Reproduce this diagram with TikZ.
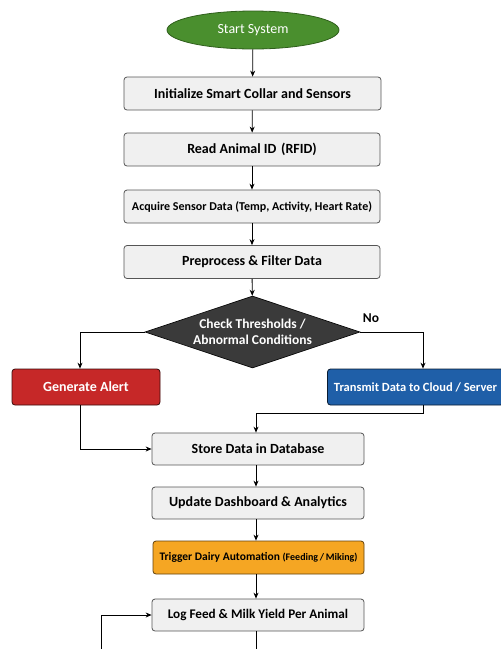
\documentclass[tikz,border=0pt]{standalone}
\usepackage{fontspec}
\setmainfont{Carlito}
\usetikzlibrary{shapes.geometric,arrows.meta}
\definecolor{boxfill}{HTML}{F0F0F0}
\definecolor{boxline}{HTML}{555555}
\definecolor{startgreen}{HTML}{4A8F2E}
\definecolor{startline}{HTML}{2F5E1C}
\definecolor{decfill}{HTML}{3A3A3A}
\definecolor{alertred}{HTML}{C62828}
\definecolor{cloudblue}{HTML}{1F5FA8}
\definecolor{autoorange}{HTML}{F5A623}
\tikzset{
  procbox/.style={draw=boxline, fill=boxfill, line width=0.8pt, rounded corners=3pt,
    minimum height=33pt, inner sep=2pt, font=\bfseries\fontsize{14}{16}\selectfont, text=black},
  arr/.style={-{Stealth[length=6pt,width=5pt]}, line width=0.8pt, black},
  lin/.style={line width=0.8pt, black},
}
\begin{document}
\begin{tikzpicture}[x=1pt,y=-1pt]
\useasboundingbox (0,0) rectangle (501,649);
\node[ellipse, draw=startline, fill=startgreen, line width=0.8pt, minimum width=172pt, minimum height=38pt,
  text=white, font=\fontsize{14}{16}\selectfont] (start) at (253,30) {Start System};
\node[procbox, minimum width=257pt] (init) at (252.5,93.5) {Initialize Smart Collar and Sensors};
\node[procbox, minimum width=256pt] (read) at (252,149.5) {Read Animal ID\,\,(RFID)};
\node[procbox, minimum width=256pt, font=\bfseries\fontsize{12}{14}\selectfont] (acq) at (252,206.5) {Acquire Sensor Data (Temp, Activity, Heart Rate)};
\node[procbox, minimum width=256pt] (pre) at (252,262) {Preprocess \& Filter Data};
\node[diamond, draw=black, fill=decfill, line width=0.6pt, minimum width=215pt, minimum height=72pt, aspect=3,
  inner sep=0pt, text=white, align=center, font=\bfseries\fontsize{13.5}{16}\selectfont] (chk) at (252.5,332)
  {Check Thresholds /\\Abnormal Conditions};
\node[procbox, fill=alertred, draw=black!70!alertred, minimum width=148pt, minimum height=36pt, text=white] (alert) at (86,387) {Generate Alert};
\node[procbox, fill=cloudblue, draw=black!70!cloudblue, minimum width=176pt, minimum height=36pt, text=white,
  font=\bfseries\fontsize{12.5}{14}\selectfont] (cloud) at (415.5,387) {Transmit Data to Cloud / Server};
\node[procbox, minimum width=212pt, minimum height=32pt] (store) at (258,449) {Store Data in Database};
\node[procbox, minimum width=212pt, minimum height=32pt] (dash) at (258,503) {Update Dashboard \& Analytics};
\node[procbox, fill=autoorange, draw=black!60!autoorange, minimum width=211pt, minimum height=33pt] (auto) at (258.5,557.5)
  {\fontsize{11.5}{13}\selectfont Trigger Dairy Automation {\fontsize{10}{12}\selectfont(Feeding\,/\,Miking)}};
\node[procbox, minimum width=212pt, minimum height=32pt, font=\bfseries\fontsize{13.2}{15}\selectfont] (log) at (258,615) {Log Feed \& Milk Yield Per Animal};
\node[font=\bfseries\fontsize{13.5}{15}\selectfont] (no) at (371,318) {No};
\coordinate (loopb) at (101,649);
\coordinate (logb) at (256,649);

\draw[arr] (start) -- (init);
\draw[arr] (init) -- (read);
\draw[arr] (read) -- (acq);
\draw[arr] (acq) -- (pre);
\draw[arr] (pre) -- (chk);
\draw[arr] (chk.west) -| (alert.north -| 80,0);
\draw[arr] (chk.east) -| (cloud.north -| 423,0);
\draw[arr] (alert.south -| 80,0) |- (store.west);
\draw[arr] (cloud.south -| 423,0) -- (423,413) -| (store.north -| 256,0);
\draw[arr] (store.south -| 256,0) -- (dash.north -| 256,0);
\draw[arr] (dash.south -| 256,0) -- (auto.north -| 256,0);
\draw[arr] (auto.south -| 256,0) -- (log.north -| 256,0);
\draw[arr] (loopb) |- (log.west);
\draw[lin] (log.south -| 256,0) -- (logb);
\end{tikzpicture}
\end{document}
